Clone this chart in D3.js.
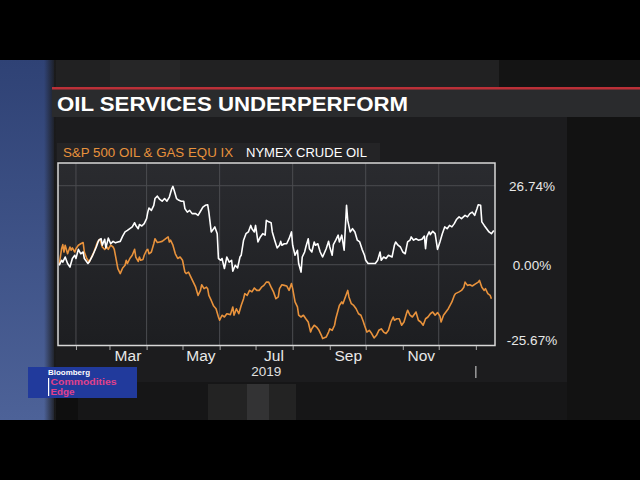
<!DOCTYPE html>
<meta charset="utf-8">
<head>
	<style>
		body { margin:0; background:#000; }
		svg { display:block; font-family:"Liberation Sans", Arial, sans-serif; }
	</style>
	<script src="https://cdn.jsdelivr.net/npm/d3@7/dist/d3.min.js"></script>
</head>
<body>
<script>

	// NYMEX crude oil, % change
	var crudeDates = ["2019-01-18","2019-01-20","2019-01-21","2019-01-23","2019-01-25","2019-01-27","2019-01-29","2019-01-31","2019-02-01","2019-02-03","2019-02-05","2019-02-07","2019-02-08","2019-02-11","2019-02-12","2019-02-15","2019-02-18","2019-02-20","2019-02-22","2019-02-23","2019-02-25","2019-02-26","2019-02-28","2019-03-02","2019-03-04","2019-03-06","2019-03-08","2019-03-10","2019-03-12","2019-03-14","2019-03-16","2019-03-18","2019-03-20","2019-03-22","2019-03-23","2019-03-25","2019-03-26","2019-03-28","2019-03-30","2019-04-01","2019-04-02","2019-04-03","2019-04-05","2019-04-07","2019-04-08","2019-04-10","2019-04-12","2019-04-14","2019-04-16","2019-04-18","2019-04-20","2019-04-22","2019-04-23","2019-04-24","2019-04-26","2019-04-28","2019-04-30","2019-05-02","2019-05-03","2019-05-05","2019-05-07","2019-05-09","2019-05-12","2019-05-14","2019-05-16","2019-05-18","2019-05-20","2019-05-22","2019-05-23","2019-05-25","2019-05-27","2019-05-28","2019-05-30","2019-05-31","2019-06-02","2019-06-03","2019-06-05","2019-06-07","2019-06-09","2019-06-11","2019-06-12","2019-06-14","2019-06-16","2019-06-18","2019-06-19","2019-06-21","2019-06-23","2019-06-25","2019-06-27","2019-06-28","2019-06-30","2019-07-01","2019-07-03","2019-07-05","2019-07-07","2019-07-09","2019-07-10","2019-07-12","2019-07-14","2019-07-15","2019-07-17","2019-07-19","2019-07-21","2019-07-22","2019-07-23","2019-07-25","2019-07-27","2019-07-29","2019-07-31","2019-08-01","2019-08-03","2019-08-05","2019-08-06","2019-08-08","2019-08-09","2019-08-11","2019-08-12","2019-08-14","2019-08-15","2019-08-17","2019-08-19","2019-08-20","2019-08-22","2019-08-24","2019-08-26","2019-08-29","2019-08-31","2019-09-01","2019-09-03","2019-09-04","2019-09-06","2019-09-08","2019-09-09","2019-09-11","2019-09-13","2019-09-15","2019-09-16","2019-09-18","2019-09-20","2019-09-22","2019-09-24","2019-09-26","2019-09-28","2019-09-30","2019-10-01","2019-10-03","2019-10-06","2019-10-09","2019-10-11","2019-10-13","2019-10-14","2019-10-16","2019-10-18","2019-10-20","2019-10-23","2019-10-25","2019-10-26","2019-10-28","2019-10-30","2019-11-01","2019-11-03","2019-11-05","2019-11-07","2019-11-08","2019-11-10","2019-11-12","2019-11-14","2019-11-17","2019-11-19","2019-11-20","2019-11-21","2019-11-23","2019-11-24","2019-11-26","2019-11-28","2019-11-30","2019-12-02","2019-12-04","2019-12-06","2019-12-08","2019-12-10","2019-12-12","2019-12-14","2019-12-16","2019-12-18","2019-12-20","2019-12-23","2019-12-25","2019-12-27","2019-12-29","2019-12-31","2020-01-02","2020-01-03","2020-01-05","2020-01-06","2020-01-08","2020-01-10","2020-01-12","2020-01-14","2020-01-16"];
	var crudeValues = [-0.2,1.5,0.9,2.6,0.4,-0.8,2.1,3.2,2.1,5.2,3.7,4.3,2.1,0.4,0.9,3.2,6.0,8.3,8.8,6.6,8.6,5.7,9.0,7.1,7.9,7.4,7.7,7.9,9.7,11.1,11.6,12.2,12.8,14.2,13.3,12.2,13.6,13.1,13.9,15.6,17.8,19.2,18.4,20.1,22.4,23.2,22.1,21.5,22.4,21.5,22.9,25.7,26.5,25.2,22.4,21.8,21.5,21.5,19.0,17.8,18.4,17.3,17.3,16.7,18.1,19.5,20.1,20.3,17.8,11.1,12.2,12.8,10.5,2.1,1.5,2.1,-1.3,2.6,0.9,1.5,-2.2,-0.2,-1.1,2.6,3.2,8.3,10.5,11.1,13.3,12.2,11.1,13.3,7.7,9.4,10.5,10.0,15.0,14.5,14.2,11.1,8.3,5.7,6.6,7.9,6.6,7.1,7.1,8.8,11.1,6.6,3.2,4.9,0.4,-2.5,2.6,4.3,6.0,8.8,5.4,4.3,7.7,6.6,7.1,4.3,2.6,5.4,7.9,6.0,3.2,6.8,8.3,10.0,7.7,10.0,4.9,20.1,15.0,11.1,12.2,11.1,8.3,7.7,5.2,3.2,1.5,0.4,0.4,0.4,1.5,4.3,1.5,2.6,2.1,3.2,2.6,6.6,7.7,6.6,6.0,4.3,3.7,7.7,8.3,9.4,8.3,8.8,8.3,8.6,9.7,5.4,9.4,11.1,10.2,11.3,10.5,5.2,7.7,10.5,12.8,12.2,13.3,12.8,13.9,15.4,16.2,15.6,16.7,16.2,17.3,17.8,16.7,19.0,20.3,20.1,14.5,13.3,12.2,11.1,10.5,11.6];

	// S&P 500 oil & gas equipment index, % change
	var oilSvcDates = ["2019-01-18","2019-01-20","2019-01-21","2019-01-22","2019-01-23","2019-01-25","2019-01-27","2019-01-28","2019-01-29","2019-01-31","2019-02-01","2019-02-03","2019-02-05","2019-02-07","2019-02-08","2019-02-10","2019-02-12","2019-02-14","2019-02-16","2019-02-17","2019-02-19","2019-02-21","2019-02-23","2019-02-25","2019-02-27","2019-02-28","2019-03-02","2019-03-04","2019-03-05","2019-03-07","2019-03-08","2019-03-10","2019-03-12","2019-03-14","2019-03-15","2019-03-16","2019-03-18","2019-03-20","2019-03-22","2019-03-23","2019-03-25","2019-03-26","2019-03-27","2019-03-29","2019-03-30","2019-04-01","2019-04-02","2019-04-03","2019-04-05","2019-04-07","2019-04-08","2019-04-10","2019-04-12","2019-04-14","2019-04-17","2019-04-19","2019-04-20","2019-04-21","2019-04-23","2019-04-25","2019-04-27","2019-04-29","2019-05-01","2019-05-03","2019-05-04","2019-05-06","2019-05-08","2019-05-10","2019-05-12","2019-05-14","2019-05-16","2019-05-17","2019-05-19","2019-05-21","2019-05-22","2019-05-23","2019-05-25","2019-05-27","2019-05-29","2019-05-31","2019-06-01","2019-06-03","2019-06-05","2019-06-07","2019-06-10","2019-06-12","2019-06-13","2019-06-15","2019-06-17","2019-06-19","2019-06-21","2019-06-22","2019-06-24","2019-06-26","2019-06-28","2019-06-30","2019-07-02","2019-07-04","2019-07-06","2019-07-08","2019-07-10","2019-07-12","2019-07-14","2019-07-16","2019-07-18","2019-07-20","2019-07-21","2019-07-23","2019-07-25","2019-07-27","2019-07-29","2019-07-31","2019-08-01","2019-08-03","2019-08-05","2019-08-06","2019-08-08","2019-08-10","2019-08-12","2019-08-14","2019-08-16","2019-08-17","2019-08-19","2019-08-21","2019-08-23","2019-08-25","2019-08-26","2019-08-29","2019-08-31","2019-09-01","2019-09-03","2019-09-05","2019-09-06","2019-09-09","2019-09-11","2019-09-12","2019-09-14","2019-09-16","2019-09-17","2019-09-19","2019-09-21","2019-09-23","2019-09-25","2019-09-27","2019-09-29","2019-09-30","2019-10-02","2019-10-04","2019-10-06","2019-10-08","2019-10-10","2019-10-12","2019-10-14","2019-10-16","2019-10-18","2019-10-20","2019-10-22","2019-10-24","2019-10-25","2019-10-27","2019-10-29","2019-10-31","2019-11-02","2019-11-04","2019-11-05","2019-11-07","2019-11-09","2019-11-12","2019-11-14","2019-11-16","2019-11-18","2019-11-20","2019-11-22","2019-11-24","2019-11-26","2019-11-28","2019-11-30","2019-12-02","2019-12-03","2019-12-05","2019-12-07","2019-12-09","2019-12-12","2019-12-14","2019-12-15","2019-12-18","2019-12-20","2019-12-22","2019-12-23","2019-12-25","2019-12-27","2019-12-29","2020-01-01","2020-01-03","2020-01-04","2020-01-06","2020-01-08","2020-01-09","2020-01-11","2020-01-13","2020-01-14"];
	var oilSvcValues = [0,5.4,6.8,4.3,6.6,3.7,6.0,4.9,5.7,4.3,5.4,6.6,7.1,7.5,4.3,2.1,0.9,2.6,4.3,5.4,7.7,8.6,6.0,5.2,6.0,5.2,6.6,6.0,5.2,0.9,-1.3,-3.0,-1.1,-0.2,1.5,0.4,2.1,3.2,5.2,2.6,1.1,2.6,1.5,1.8,3.2,4.9,5.2,3.7,4.3,7.1,8.8,7.5,7.7,7.9,8.8,9.4,7.7,8.3,6.6,3.7,2.1,2.6,1.5,-2.5,-3.0,-2.5,-4.2,-5.9,-7.6,-10.4,-8.7,-6.8,-8.1,-7.6,-8.1,-10.4,-12.1,-14.0,-14.9,-17.7,-18.8,-17.1,-17.7,-16.6,-16.9,-14.3,-17.1,-14.9,-16.6,-13.8,-11.5,-9.8,-10.4,-8.7,-9.2,-7.9,-8.7,-8.7,-7.6,-7.0,-5.9,-5.9,-7.6,-9.2,-11.5,-10.9,-8.1,-6.8,-7.0,-7.2,-8.7,-6.4,-8.1,-12.6,-14.3,-17.1,-17.7,-17.1,-18.3,-19.4,-22.8,-21.7,-20.5,-21.1,-22.2,-23.9,-25.0,-24.5,-22.8,-21.7,-22.2,-20.5,-18.3,-13.8,-12.6,-13.2,-10.9,-8.7,-10.9,-13.2,-13.8,-14.9,-16.6,-17.1,-19.2,-20.5,-22.8,-22.2,-23.3,-24.8,-23.9,-22.2,-21.7,-22.8,-23.3,-22.2,-19.4,-17.7,-18.8,-18.3,-18.3,-20.5,-19.4,-16.6,-15.4,-17.1,-17.7,-16.0,-18.8,-19.4,-20.5,-18.3,-17.7,-16.6,-16.0,-17.1,-16.2,-17.4,-19.4,-17.1,-16.0,-14.9,-12.6,-10.4,-9.8,-9.2,-8.7,-7.6,-5.9,-7.0,-6.8,-7.2,-6.4,-5.9,-5.3,-7.6,-8.7,-8.1,-9.8,-10.4,-11.5];

	var seriesNames = ["S&P 500 OIL & GAS EQU IX", "NYMEX CRUDE OIL"];
	var yTicks = [26.74, 0, -25.67];
	var xLabelDates = ["2019-03-16","2019-05-16","2019-07-16","2019-09-16","2019-11-16"];
	var yearLabel = "2019";
	var title = "OIL SERVICES UNDERPERFORM";

	var parse = d3.timeParse("%Y-%m-%d");
	var crude = crudeDates.map(function(d, i) { return [parse(d), crudeValues[i]] });
	var oilSvc = oilSvcDates.map(function(d, i) { return [parse(d), oilSvcValues[i]] });

	var svg = d3.select("body").append("svg")
		.attr("width", 640)
		.attr("height", 480);

	var defs = svg.append("defs");
	var blue = defs.append("linearGradient").attr("id", "blue").attr("x1", 0).attr("y1", 0).attr("x2", 0).attr("y2", 1);
	blue.append("stop").attr("offset", 0).attr("stop-color", "#2f4275");
	blue.append("stop").attr("offset", 1).attr("stop-color", "#4d6298");
	var blueEdge = defs.append("linearGradient").attr("id", "blueEdge");
	blueEdge.append("stop").attr("offset", 0).attr("stop-color", "#1a1a1b").attr("stop-opacity", 0);
	blueEdge.append("stop").attr("offset", 1).attr("stop-color", "#1a1a1b").attr("stop-opacity", 1);
	var plotBg = defs.append("linearGradient").attr("id", "plotBg").attr("x1", 0).attr("y1", 0).attr("x2", 0).attr("y2", 1);
	plotBg.append("stop").attr("offset", 0).attr("stop-color", "#2a2b2f");
	plotBg.append("stop").attr("offset", 1).attr("stop-color", "#1d1e21");

	// studio background
	svg.append("rect").attr("width", 640).attr("height", 480).attr("fill", "#000");
	svg.append("rect").attr("x", 0).attr("y", 60).attr("width", 640).attr("height", 360).attr("fill", "#1a1a1b");
	svg.append("rect").attr("x", 54).attr("y", 60).attr("width", 445).attr("height", 28).attr("fill", "#212122");
	svg.append("rect").attr("x", 110).attr("y", 60).attr("width", 70).attr("height", 28).attr("fill", "#262627");
	svg.append("rect").attr("x", 499).attr("y", 60).attr("width", 141).attr("height", 28).attr("fill", "#141414");
	svg.append("rect").attr("x", 52).attr("y", 117).attr("width", 515).attr("height", 265).attr("fill", "#1c1c1e");
	svg.append("rect").attr("x", 567).attr("y", 117).attr("width", 73).attr("height", 303).attr("fill", "#121212");
	svg.append("rect").attr("x", 54).attr("y", 382).attr("width", 513).attr("height", 38).attr("fill", "#161617");
	svg.append("rect").attr("x", 54).attr("y", 382).attr("width", 24).attr("height", 38).attr("fill", "#0f0f0f");
	svg.append("rect").attr("x", 208).attr("y", 384).attr("width", 88).attr("height", 36).attr("fill", "#232323");
	svg.append("rect").attr("x", 247).attr("y", 384).attr("width", 22).attr("height", 36).attr("fill", "#333334");
	svg.append("rect").attr("x", 0).attr("y", 60).attr("width", 54).attr("height", 360).attr("fill", "url(#blue)");
	svg.append("rect").attr("x", 44).attr("y", 60).attr("width", 12).attr("height", 360).attr("fill", "url(#blueEdge)");

	// title bar
	svg.append("rect").attr("x", 52).attr("y", 89).attr("width", 588).attr("height", 28).attr("fill", "#2a2b2d");
	svg.append("rect").attr("x", 52).attr("y", 87).attr("width", 588).attr("height", 2.5).attr("fill", "#bb3038");
	svg.append("text")
		.attr("x", 57).attr("y", 111)
		.attr("fill", "#fff")
		.attr("font-size", 21).attr("font-weight", "bold")
		.attr("textLength", 351).attr("lengthAdjust", "spacingAndGlyphs")
		.text(title);

	// legend
	svg.append("rect").attr("x", 57).attr("y", 143).attr("width", 323).attr("height", 18).attr("fill", "#242426");
	svg.append("text").attr("x", 63).attr("y", 157).attr("fill", "#e8923c").attr("font-size", 12.5)
		.attr("textLength", 170).attr("lengthAdjust", "spacingAndGlyphs").text(seriesNames[0]);
	svg.append("text").attr("x", 246).attr("y", 157).attr("fill", "#fff").attr("font-size", 12.5)
		.attr("textLength", 121).attr("lengthAdjust", "spacingAndGlyphs").text(seriesNames[1]);

	// scales
	var x = d3.scaleTime()
		.domain([new Date(2019, 0, 17), new Date(2020, 0, 17)])
		.range([58, 495]);
	var y = d3.scaleLinear()
		.domain([-27.35, 34.43])
		.range([345.5, 163]);

	svg.append("rect").attr("x", 58).attr("y", 163).attr("width", 437).attr("height", 182.5).attr("fill", "url(#plotBg)");

	var months = d3.timeMonth.range(new Date(2019, 1, 1), new Date(2020, 0, 2));

	// grid
	svg.append("g").selectAll("line")
		.data(months.filter(function(d) { return d.getFullYear() == 2019 && d.getMonth() % 2 == 1 }))
	  .enter().append("line")
		.attr("x1", function(d) { return x(d) }).attr("x2", function(d) { return x(d) })
		.attr("y1", 163).attr("y2", 345.5)
		.style("stroke", "#4b4c50");
	svg.append("g").selectAll("line")
		.data(yTicks.slice(0, 2))
	  .enter().append("line")
		.attr("x1", 58).attr("x2", 495)
		.attr("y1", function(d) { return y(d) }).attr("y2", function(d) { return y(d) })
		.style("stroke", "#4b4c50");

	var line = d3.line()
		.x(function(d) { return x(d[0]) })
		.y(function(d) { return y(d[1]) });

	svg.append("path").datum(oilSvc)
		.attr("d", line)
		.style("fill", "none").style("stroke", "#e8923c").style("stroke-width", 1.6).style("stroke-linejoin", "round");
	svg.append("path").datum(crude)
		.attr("d", line)
		.style("fill", "none").style("stroke", "#fff").style("stroke-width", 1.6).style("stroke-linejoin", "round");

	svg.append("rect").attr("x", 58).attr("y", 163).attr("width", 437).attr("height", 182.5)
		.style("fill", "none").style("stroke", "#d8d8d8").style("stroke-width", 1.5);

	// x axis: monthly ticks, labels mid-month
	var xTicks = svg.append("g").attr("transform", "translate(0,346)")
		.call(d3.axisBottom(x).tickValues(months).tickSize(4).tickFormat(""));
	xTicks.select(".domain").remove();
	xTicks.selectAll("line").style("stroke", "#aaa");

	var xLabels = svg.append("g").attr("transform", "translate(0,346)")
		.call(d3.axisBottom(x).tickValues(xLabelDates.map(parse)).tickSize(0).tickFormat(d3.timeFormat("%b")));
	xLabels.select(".domain").remove();
	xLabels.selectAll("text")
		.attr("y", 15).attr("dy", 0)
		.attr("fill", "#e8e8e8")
		.style("font-family", "Liberation Sans, Arial, sans-serif")
		.style("font-size", "15.5px");

	svg.append("text")
		.attr("x", x(new Date(2019, 6, 10))).attr("y", 376)
		.attr("text-anchor", "middle").attr("fill", "#e0e0e0").attr("font-size", 13.5)
		.text(yearLabel);
	svg.append("line")
		.attr("x1", x(new Date(2020, 0, 1))).attr("x2", x(new Date(2020, 0, 1)))
		.attr("y1", 366).attr("y2", 378)
		.style("stroke", "#bbb").style("stroke-width", 1.2);

	// y labels
	var yAxis = svg.append("g").attr("transform", "translate(532,0)")
		.call(d3.axisRight(y).tickValues(yTicks).tickSize(0).tickFormat(function(d) { return d.toFixed(2) + "%" }));
	yAxis.select(".domain").remove();
	yAxis.selectAll("text")
		.attr("x", 0).attr("text-anchor", "middle")
		.attr("fill", "#e8e8e8")
		.style("font-family", "Liberation Sans, Arial, sans-serif")
		.style("font-size", "13.5px");

	// logo
	svg.append("rect").attr("x", 28).attr("y", 367).attr("width", 109).attr("height", 31).attr("fill", "#213a9c");
	svg.append("rect").attr("x", 48).attr("y", 378).attr("width", 1.2).attr("height", 18).attr("fill", "#fff");
	svg.append("text").attr("x", 48).attr("y", 374.5).attr("fill", "#fff").attr("font-size", 8).attr("font-weight", "bold")
		.attr("textLength", 42).attr("lengthAdjust", "spacingAndGlyphs").text("Bloomberg");
	svg.append("text").attr("x", 50.5).attr("y", 384.5).attr("fill", "#e2418b").attr("font-size", 9).attr("font-weight", "bold")
		.attr("textLength", 66).attr("lengthAdjust", "spacingAndGlyphs").text("Commodities");
	svg.append("text").attr("x", 50.5).attr("y", 394.5).attr("fill", "#e2418b").attr("font-size", 9).attr("font-weight", "bold")
		.attr("textLength", 24).attr("lengthAdjust", "spacingAndGlyphs").text("Edge");

</script>
</body>
